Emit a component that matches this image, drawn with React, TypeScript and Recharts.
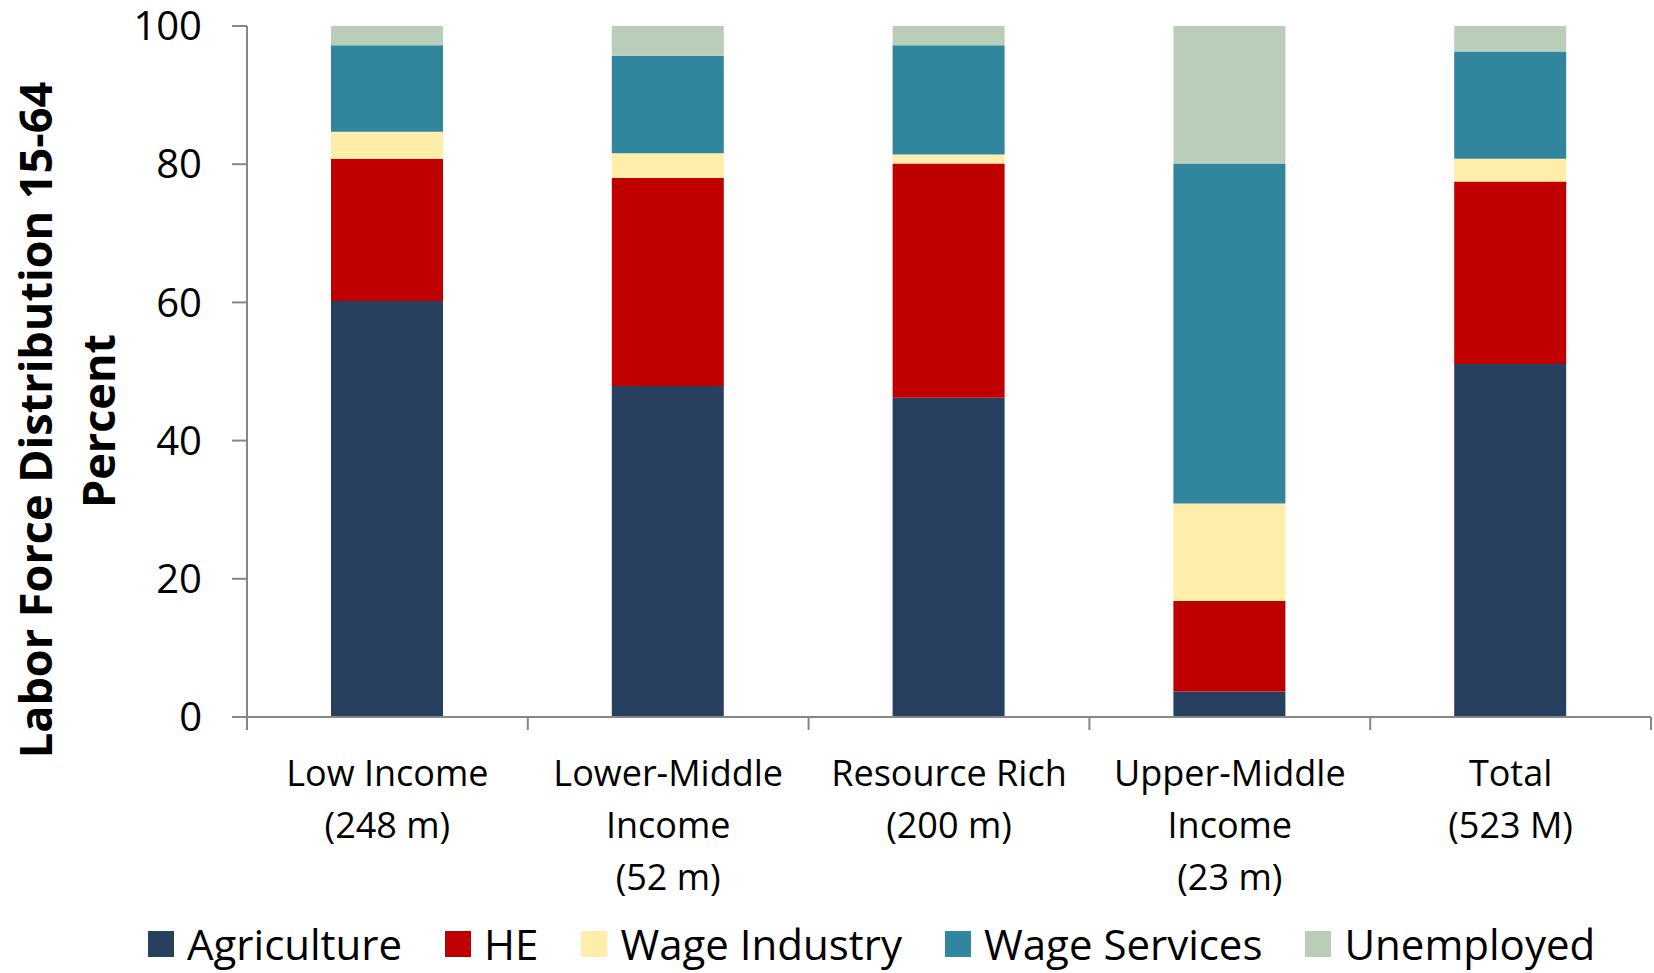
import React from 'react';
import { BarChart, Bar, XAxis, YAxis, Legend } from 'recharts';

const categories = [
  'Low Income\n(248 m)',
  'Lower-Middle\nIncome\n(52 m)',
  'Resource Rich\n(200 m)',
  'Upper-Middle\nIncome\n(23 m)',
  'Total\n(523 M)',
];
const agriculture = [60.2, 47.9, 46.2, 3.7, 51.1];
const he = [20.6, 30.1, 33.9, 13.1, 26.4];
const wageIndustry = [3.9, 3.6, 1.3, 14.1, 3.3];
const wageServices = [12.5, 14.1, 15.8, 49.2, 15.5];
const unemployed = [2.8, 4.3, 2.8, 19.9, 3.7];
const yTicks = [0, 20, 40, 60, 80, 100];

const seriesNames = ['Agriculture', 'HE', 'Wage Industry', 'Wage Services', 'Unemployed'];
const seriesKeys = ['agriculture', 'he', 'wageIndustry', 'wageServices', 'unemployed'];
const seriesColors = ['#28405F', '#C00000', '#FFEEA9', '#31859C', '#B9CDB8'];

const data = categories.map((c, i) => ({
  category: c,
  agriculture: agriculture[i],
  he: he[i],
  wageIndustry: wageIndustry[i],
  wageServices: wageServices[i],
  unemployed: unemployed[i],
}));

const FONT = '"Open Sans", sans-serif';
const AXIS_COLOR = '#868686';

const CategoryTick = (props: any) => {
  const { x, y, payload, index, visibleTicksCount, width } = props;
  const half =
    payload && typeof payload.offset === 'number' && payload.offset > 0
      ? payload.offset
      : width / visibleTicksCount / 2;
  const lines = String(payload.value).split('\n');
  return (
    <g>
      <line x1={x - half} x2={x - half} y1={y} y2={y + 13} stroke={AXIS_COLOR} strokeWidth={2} />
      {index === visibleTicksCount - 1 && (
        <line x1={x + half} x2={x + half} y1={y} y2={y + 13} stroke={AXIS_COLOR} strokeWidth={2} />
      )}
      <text x={x} y={y} textAnchor="middle" fontSize={36} fontFamily={FONT} fill="#000">
        {lines.map((l, i) => (
          <tspan key={i} x={x} dy={i === 0 ? 69 : 52}>
            {l}
          </tspan>
        ))}
      </text>
    </g>
  );
};

const YLabel = () => (
  <g fontFamily={FONT} fontWeight="bold" fontSize={45} fill="#000">
    <text x={34} y={420} textAnchor="middle" dominantBaseline="central" transform="rotate(-90 34 420)">
      Labor Force Distribution 15-64
    </text>
    <text x={97} y={421} textAnchor="middle" dominantBaseline="central" transform="rotate(-90 97 421)">
      Percent
    </text>
  </g>
);

const renderLegend = () => (
  <div
    style={{
      display: 'flex',
      alignItems: 'center',
      height: 48,
      paddingLeft: 148,
      fontFamily: FONT,
      fontSize: 42,
      lineHeight: '48px',
      color: '#000',
      whiteSpace: 'nowrap',
      transform: 'translateY(-5px)',
    }}
  >
    {seriesNames.map((n, i) => (
      <div key={n} style={{ display: 'flex', alignItems: 'center', marginRight: 43 }}>
        <span
          style={{
            display: 'inline-block',
            width: 26,
            height: 26,
            background: seriesColors[i],
            marginRight: 13,
          }}
        />
        <span>{n}</span>
      </div>
    ))}
  </div>
);

export default function App() {
  return (
    <div style={{ position: 'absolute', left: 0, top: 0, width: 1654, height: 973, background: '#fff' }}>
      <BarChart
        width={1654}
        height={973}
        data={data}
        margin={{ top: 26, right: 3, bottom: 0, left: 0 }}
        barSize={112}
      >
        <XAxis
          dataKey="category"
          height={208}
          interval={0}
          tickLine={false}
          tickSize={0}
          tickMargin={0}
          axisLine={{ stroke: AXIS_COLOR, strokeWidth: 2 }}
          tick={<CategoryTick />}
        />
        <YAxis
          width={247}
          domain={[0, 100]}
          ticks={yTicks}
          interval={0}
          tickSize={15}
          tickMargin={30}
          axisLine={{ stroke: AXIS_COLOR, strokeWidth: 2 }}
          tickLine={{ stroke: AXIS_COLOR, strokeWidth: 2 }}
          tick={{ fontSize: 40, fill: '#000', fontFamily: FONT }}
          label={{ content: () => <YLabel /> }}
        />
        <Legend verticalAlign="bottom" content={renderLegend} />
        {seriesKeys.map((k, i) => (
          <Bar
            key={k}
            dataKey={k}
            name={seriesNames[i]}
            stackId="a"
            fill={seriesColors[i]}
            isAnimationActive={false}
          />
        ))}
      </BarChart>
    </div>
  );
}
